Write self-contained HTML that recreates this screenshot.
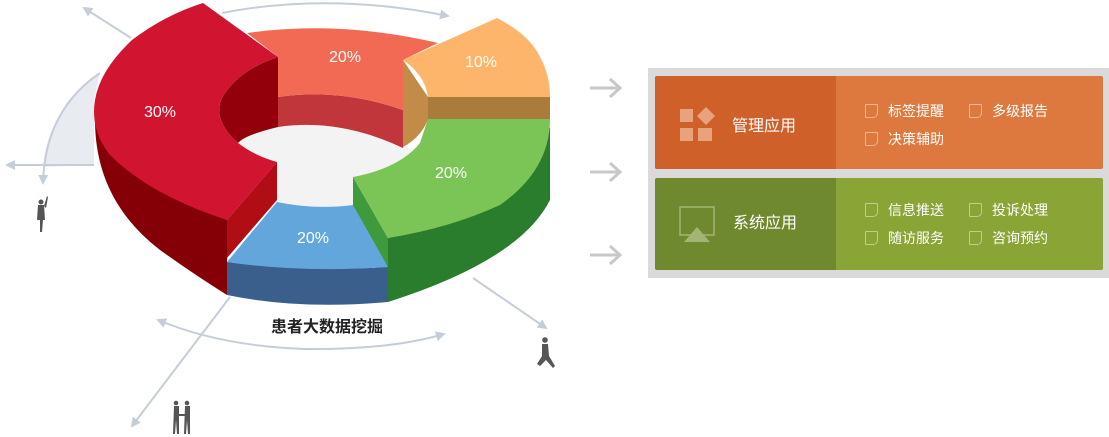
<!DOCTYPE html>
<html><head><meta charset="utf-8"><style>
html,body{margin:0;padding:0;background:#fff;}
body{width:1109px;height:437px;position:relative;overflow:hidden;font-family:"Liberation Sans","Noto Sans CJK SC",sans-serif;}
.abs{position:absolute;}
.t{position:absolute;color:#fff;font-size:14px;line-height:16px;white-space:nowrap;}
.cb{position:absolute;width:11px;height:12px;border:1.5px solid rgba(255,255,255,0.45);border-radius:1px 1px 5px 1px;}
</style></head><body>
<svg class="abs" style="left:0;top:0" width="1109" height="437" viewBox="0 0 1109 437">
<defs>
<marker id="ah" markerWidth="10" markerHeight="10" refX="8" refY="5" orient="auto" markerUnits="userSpaceOnUse"><path d="M0,0 L10,5 L0,10 Z" fill="#c5ced8"/></marker>
</defs>
<!-- background guide shapes -->
<path d="M100,73 Q48,110 43,167 L94,165 L94,100 Z" fill="#e8ebef"/>
<path d="M100,73 Q45,110 43,183" fill="none" stroke="#c5ced8" stroke-width="2" marker-end="url(#ah)"/>
<line x1="94" y1="165" x2="7" y2="165" stroke="#c5ced8" stroke-width="2" marker-end="url(#ah)"/>
<line x1="131" y1="38" x2="84" y2="8" stroke="#c5ced8" stroke-width="2" marker-end="url(#ah)"/>
<path d="M222,13 Q330,-8 448,16" fill="none" stroke="#c5ced8" stroke-width="2" marker-end="url(#ah)"/>
<path d="M305,349 Q220,346 158,320" fill="none" stroke="#c5ced8" stroke-width="2" marker-end="url(#ah)"/>
<path d="M305,349 Q390,350 444,334" fill="none" stroke="#c5ced8" stroke-width="2" marker-end="url(#ah)"/>
<line x1="230" y1="297" x2="132" y2="426" stroke="#c5ced8" stroke-width="2" marker-end="url(#ah)"/>
<line x1="473" y1="278" x2="546" y2="328" stroke="#c5ced8" stroke-width="2" marker-end="url(#ah)"/>
<!-- center hole -->
<ellipse cx="320" cy="170" rx="100" ry="48" fill="#f3f3f3"/>
<!-- salmon wall -->
<path d="M278,97 Q340,88 403,110 L403,148 Q340,118 278,127 Z" fill="#c0363a"/>
<!-- salmon top -->
<path d="M247,33 Q340,20 438,43 L403,60 L403,110 Q340,88 278,97 L278,57 Z" fill="#f26a53"/>
<!-- orange -->
<path d="M403,60 L428,97 L428,120 Q420,138 403,147 Z" fill="#c38b48"/>
<path d="M403,60 L497,18 Q530,35 540,57 Q550,75 550,97 L428,97 Q425,75 403,60 Z" fill="#fdb56b"/>
<rect x="428" y="97" width="122" height="22" fill="#a97c3b"/>
<!-- green -->
<path d="M550,119 L550,200 Q520,260 388,302 L388,238 Q520,210 550,127 Z" fill="#2a7d2c"/>
<path d="M353,177 L388,238 L388,300 L353,210 Z" fill="#3f9a3c"/>
<path d="M428,119 L550,119 Q550,170 500,205 Q450,228 388,238 L353,177 Q400,168 420,143 Z" fill="#7bc557"/>
<!-- blue -->
<path d="M227,262 Q300,272 388,267 L388,302 Q300,310 227,295 Z" fill="#3b5f8c"/>
<path d="M227,262 L277,202 Q315,210 353,205 L388,267 Q300,273 227,262 Z" fill="#63a6dc"/>
<!-- red -->
<path d="M95,120 Q95,200 160,250 Q195,275 227,295 L227,220 Q130,180 95,120 Z" fill="#850006"/>
<path d="M277,162 L227,220 L227,258 L277,200 Z" fill="#b00d15"/>
<path d="M278,57 L278,127 Q245,135 238,143 Q212,120 222,98 Q238,70 278,57 Z" fill="#93000b"/>
<path d="M203,3 L278,57 Q238,70 222,98 Q212,120 238,143 Q255,156 277,162 L227,220 Q150,195 110,155 Q90,130 95,100 Q100,70 132,40 Q165,15 203,3 Z" fill="#d11430"/>
<!-- percentages -->
<g fill="#fff" font-family="Liberation Sans, sans-serif" font-size="16" text-anchor="middle">
<text x="160" y="117">30%</text>
<text x="345" y="62">20%</text>
<text x="481" y="67">10%</text>
<text x="451" y="178">20%</text>
<text x="313" y="243">20%</text>
</g>
<text x="327" y="332" text-anchor="middle" font-size="16" font-weight="bold" fill="#222" font-family="Liberation Sans, Noto Sans CJK SC, sans-serif">患者大数据挖掘</text>
<!-- people -->
<g fill="#555">
<circle cx="41" cy="202" r="2.5"/><path d="M38,205 L44,205 L45,220 L43,220 L42,232 L40,232 L40,220 L37,220 Z"/><path d="M44,206 L47,196 L48,197 L46,208 Z"/>
<circle cx="176" cy="403" r="2.3"/><path d="M174,406 L179,406 L179,434 L177,434 L176,420 L175,434 L173,434 Z"/>
<circle cx="187" cy="403" r="2.3"/><path d="M185,406 L190,406 L190,434 L188,434 L187,420 L186,434 L184,434 Z"/><path d="M179,414 L185,414 L185,416 L179,416 Z"/>
<circle cx="545" cy="340" r="2.8"/><path d="M542,344 L548,344 L549,356 L555,366 L553,368 L546,360 L540,366 L537,364 L542,356 Z"/>
</g>
<!-- arrows to panel -->
<g stroke="#c8c8c8" stroke-width="3" fill="none">
<path d="M590,88 L620,88 M610,79 L620,88 L610,97"/>
<path d="M590,172 L620,172 M610,163 L620,172 L610,181"/>
<path d="M590,255 L620,255 M610,246 L620,255 L610,264"/>
</g>
<!-- panel -->
<rect x="648" y="68" width="461" height="210" fill="#dadada"/>
<rect x="655" y="76" width="448" height="93" rx="2" fill="#dd783f"/>
<path d="M657,76 L836,76 L836,169 L657,169 Q655,169 655,167 L655,78 Q655,76 657,76 Z" fill="#d0602a"/>
<rect x="655" y="178" width="448" height="92" rx="2" fill="#89a535"/>
<path d="M657,178 L836,178 L836,270 L657,270 Q655,270 655,268 L655,180 Q655,178 657,178 Z" fill="#6f8a2e"/>
<g fill="#e8a27c">
<rect x="680" y="109" width="13" height="13"/><rect x="680" y="128" width="13" height="13"/><rect x="698" y="128" width="14" height="13"/>
<path d="M706,107 L715,116 L706,125 L697,116 Z"/>
</g>
<rect x="680" y="207" width="34" height="28" fill="none" stroke="#a3b474" stroke-width="1.5"/>
<path d="M684,242 L697,227 L710,242 Z" fill="#a3b474"/>
</svg>
<div class="t" style="left:732px;top:117px;font-size:16px;line-height:20px;">管理应用</div>
<div class="t" style="left:733px;top:214px;font-size:16px;line-height:20px;">系统应用</div>
<div class="cb" style="left:865px;top:104px"></div><div class="t" style="left:888px;top:103px">标签提醒</div>
<div class="cb" style="left:969px;top:104px"></div><div class="t" style="left:992px;top:103px">多级报告</div>
<div class="cb" style="left:865px;top:132px"></div><div class="t" style="left:888px;top:131px">决策辅助</div>
<div class="cb" style="left:865px;top:203px"></div><div class="t" style="left:888px;top:202px">信息推送</div>
<div class="cb" style="left:969px;top:203px"></div><div class="t" style="left:992px;top:202px">投诉处理</div>
<div class="cb" style="left:865px;top:231px"></div><div class="t" style="left:888px;top:230px">随访服务</div>
<div class="cb" style="left:969px;top:231px"></div><div class="t" style="left:992px;top:230px">咨询预约</div>
</body></html>
